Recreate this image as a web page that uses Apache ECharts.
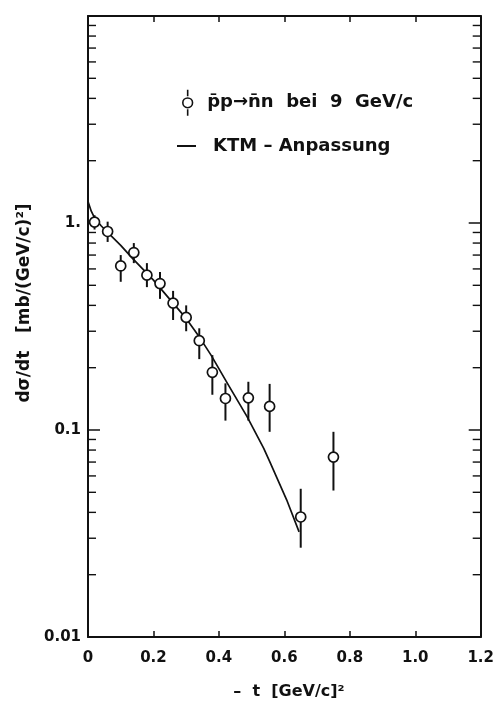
<!DOCTYPE html>
<html>
<head>
<meta charset="utf-8">
<script src="https://cdn.jsdelivr.net/npm/echarts@6/dist/echarts.min.js"></script>
<style>
  html, body { margin: 0; padding: 0; background: #fff; }
  #chart { width: 497px; height: 707px; }
</style>
</head>
<body>
<div id="chart"></div>
<script>
// p̄p → n̄n charge exchange at 9 GeV/c: measured dσ/dt with errors, and the KTM fit
const tValues    = [0.02, 0.06, 0.10, 0.14, 0.18, 0.22, 0.26, 0.30, 0.34, 0.38, 0.42, 0.49, 0.555, 0.65, 0.75];
const dsdtValues = [1.01, 0.91, 0.62, 0.72, 0.56, 0.51, 0.41, 0.35, 0.27, 0.19, 0.142, 0.143, 0.130, 0.038, 0.074];
const errLow     = [0.93, 0.81, 0.52, 0.64, 0.49, 0.43, 0.34, 0.30, 0.22, 0.148, 0.111, 0.111, 0.098, 0.027, 0.051];
const errHigh    = [1.09, 1.015, 0.70, 0.80, 0.64, 0.58, 0.47, 0.40, 0.31, 0.23, 0.168, 0.171, 0.167, 0.052, 0.098];

// KTM fit curve
const fitT   = [0.0, 0.01, 0.02, 0.04, 0.06, 0.10, 0.136, 0.20, 0.256, 0.296, 0.336, 0.376, 0.426, 0.486, 0.537, 0.556, 0.607, 0.645];
const fitVal = [1.27, 1.14, 1.06, 0.97, 0.90, 0.78, 0.675, 0.53, 0.417, 0.352, 0.288, 0.230, 0.168, 0.116, 0.0816, 0.070, 0.046, 0.0322];

// axis ticks
const xTicks = [0, 0.2, 0.4, 0.6, 0.8, 1.0, 1.2];
const yMajorLabels = { 0.01: '0.01', 0.1: '0.1', 1: '1.', 10: '' };
const yMinorTicks = [0.02, 0.03, 0.04, 0.05, 0.06, 0.07, 0.08, 0.09,
                     0.2, 0.3, 0.4, 0.5, 0.6, 0.7, 0.8, 0.9,
                     2, 3, 4, 5, 6, 7, 8, 9];

const seriesData = 'p̄p→n̄n  bei  9  GeV/c';
const seriesFit = 'KTM – Anpassung';

const INK = '#111';
const FONT = 'DejaVu Sans';

const chart = echarts.init(document.getElementById('chart'), null, { renderer: 'canvas' });

const points = tValues.map((t, i) => [t, dsdtValues[i]]);
const bars = tValues.map((t, i) => [t, errLow[i], errHigh[i]]);
const fit = fitT.map((t, i) => [t, fitVal[i]]);
const minor = yMinorTicks.map(v => [0, v]);

const axisCommon = {
  axisLine: { show: true, onZero: false, lineStyle: { color: INK, width: 2 } },
  splitLine: { show: false }
};

const labelStyle = { fontFamily: FONT, fontSize: 15, fontWeight: 'bold', color: INK };

chart.setOption({
  backgroundColor: '#fff',
  animation: false,
  grid: { left: 88, right: 10, top: 16, bottom: 70, containLabel: false },
  legend: [
    {
      data: [{ name: seriesData,
               icon: 'path://M4,0 L4,6 M4,18 L4,24 M8.5,12 A4.5,4.5 0 1 1 -0.5,12 A4.5,4.5 0 1 1 8.5,12 Z' }],
      left: 177, top: 84, itemWidth: 11, itemHeight: 26,
      itemStyle: { color: '#fff', borderColor: INK, borderWidth: 1.6, opacity: 1 },
      textStyle: { fontFamily: FONT, fontSize: 18, fontWeight: 'bold', color: INK, padding: [0, 0, 0, 9] }
    },
    {
      data: [{ name: seriesFit, icon: 'rect' }],
      left: 172, top: 132, itemWidth: 19, itemHeight: 2,
      itemStyle: { color: INK, borderWidth: 0 },
      textStyle: { fontFamily: FONT, fontSize: 18, fontWeight: 'bold', color: INK, padding: [0, 0, 0, 12] }
    }
  ],
  xAxis: [
    Object.assign({}, axisCommon, {
      type: 'value', position: 'bottom', min: 0, max: 1.2, interval: 0.2,
      axisTick: { show: true, inside: true, length: 6, lineStyle: { color: INK, width: 1.5 } },
      axisLabel: Object.assign({}, labelStyle, {
        margin: 14,
        formatter: v => (Math.abs(v) < 1e-9 ? '0' : v.toFixed(1))
      })
    }),
    Object.assign({}, axisCommon, {
      type: 'value', position: 'top', min: 0, max: 1.2, interval: 0.2,
      axisTick: { show: true, inside: true, length: 6, lineStyle: { color: INK, width: 1.5 } },
      axisLabel: { show: false }
    })
  ],
  yAxis: [
    Object.assign({}, axisCommon, {
      type: 'log', logBase: 10, position: 'left', min: 0.01, max: 10,
      axisTick: { show: true, inside: true, length: 12, lineStyle: { color: INK, width: 1.5 } },
      axisLabel: Object.assign({}, labelStyle, {
        margin: 7,
        formatter: v => {
          const key = Object.keys(yMajorLabels).find(k => Math.abs(+k - v) / v < 1e-6);
          return key !== undefined ? yMajorLabels[key] : '';
        }
      })
    }),
    Object.assign({}, axisCommon, {
      type: 'log', logBase: 10, position: 'right', min: 0.01, max: 10,
      axisTick: { show: true, inside: true, length: 12, lineStyle: { color: INK, width: 1.5 } },
      axisLabel: { show: false }
    })
  ],
  graphic: [
    {
      type: 'text', x: 289, y: 692,
      style: { text: '–  t  [GeV/c]²', font: 'bold 16px "DejaVu Sans"', fill: INK,
               textAlign: 'center', textVerticalAlign: 'middle' }
    },
    {
      type: 'text', x: 25, y: 303, rotation: Math.PI / 2,
      style: { text: 'dσ/dt   [mb/(GeV/c)²]', font: 'bold 17px "DejaVu Sans"', fill: INK,
               textAlign: 'center', textVerticalAlign: 'middle' }
    }
  ],
  series: [
    {
      // logarithmic minor ticks (2..9 in each decade) on both frame sides
      type: 'custom', xAxisIndex: 0, yAxisIndex: 0, silent: true, clip: false, z: 1,
      data: minor,
      renderItem: (params, api) => {
        const cs = params.coordSys;
        const y = api.coord([0, api.value(1)])[1];
        const style = { stroke: INK, lineWidth: 1.4 };
        return {
          type: 'group',
          children: [
            { type: 'line', shape: { x1: cs.x, y1: y, x2: cs.x + 8, y2: y }, style },
            { type: 'line', shape: { x1: cs.x + cs.width - 8, y1: y, x2: cs.x + cs.width, y2: y }, style }
          ]
        };
      }
    },
    {
      name: seriesFit,
      type: 'line', xAxisIndex: 0, yAxisIndex: 0, data: fit,
      smooth: false, showSymbol: false, symbol: 'none', z: 2,
      lineStyle: { color: INK, width: 1.7, join: 'round' },
      itemStyle: { color: INK }
    },
    {
      // vertical error bars
      type: 'custom', xAxisIndex: 0, yAxisIndex: 0, silent: true, z: 3,
      data: bars,
      renderItem: (params, api) => {
        const lo = api.coord([api.value(0), api.value(1)]);
        const hi = api.coord([api.value(0), api.value(2)]);
        return {
          type: 'line',
          shape: { x1: lo[0], y1: lo[1], x2: hi[0], y2: hi[1] },
          style: { stroke: INK, lineWidth: 2 }
        };
      }
    },
    {
      name: seriesData,
      type: 'scatter', xAxisIndex: 0, yAxisIndex: 0, data: points,
      symbol: 'circle', symbolSize: 10, z: 4,
      itemStyle: { color: '#fff', borderColor: INK, borderWidth: 1.7, opacity: 1 }
    }
  ]
});
</script>
</body>
</html>
